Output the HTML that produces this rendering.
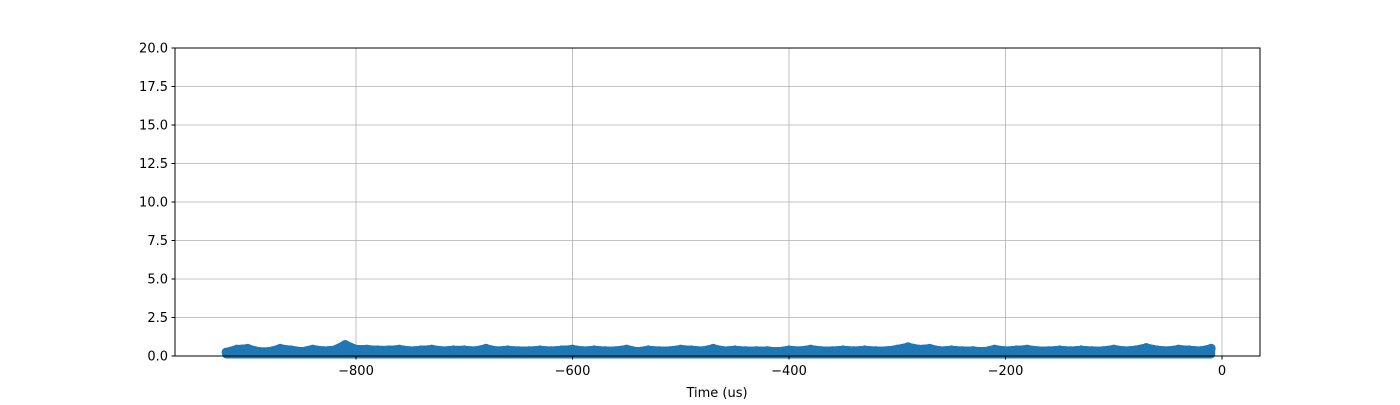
<!DOCTYPE html>
<html><head><meta charset="utf-8"><style>
body{margin:0;background:#fff;font-family:"Liberation Sans","DejaVu Sans",sans-serif}
svg text{font-family:"DejaVu Sans","Liberation Sans",sans-serif;font-size:13px;fill:#000}
</style></head><body>
<svg width="1400" height="400">
<g id="grid"></g>
<g id="series"></g>
<rect x="175" y="48" width="1085" height="308" fill="none" stroke="#000" stroke-width="1"/>
<g id="ticks"></g>
<text x="717" y="397" text-anchor="middle">Time (us)</text>
</svg>
<script>
const xTicks=[-800,-600,-400,-200,0];
const yTicks=[0,2.5,5,7.5,10,12.5,15,17.5,20];
const yTickLabels=["0.0","2.5","5.0","7.5","10.0","12.5","15.0","17.5","20.0"];
const times=[];for(let t=-920;t<=-10;t+=10)times.push(t);
const values=[0.25,0.45,0.5,0.3,0.3,0.5,0.4,0.3,0.45,0.35,0.4,0.75,0.45,0.45,0.4,0.4,0.45,0.35,0.4,0.45,0.35,0.4,0.4,0.35,0.5,0.35,0.4,0.35,0.35,0.4,0.35,0.4,0.45,0.35,0.4,0.35,0.35,0.45,0.3,0.4,0.35,0.35,0.45,0.4,0.35,0.5,0.35,0.4,0.35,0.35,0.35,0.3,0.4,0.35,0.45,0.35,0.35,0.4,0.35,0.4,0.35,0.35,0.45,0.6,0.45,0.5,0.35,0.4,0.35,0.35,0.3,0.45,0.35,0.4,0.45,0.35,0.35,0.4,0.35,0.4,0.35,0.35,0.45,0.35,0.4,0.55,0.4,0.35,0.45,0.4,0.35,0.5];
const X=v=>1222+(v)*216.5/200, Y=v=>356-v*308/20;
const NS="http://www.w3.org/2000/svg";
function mk(tag,at,p){const e=document.createElementNS(NS,tag);for(const k in at)e.setAttribute(k,at[k]);p.appendChild(e);return e;}
const grid=document.getElementById('grid'),ticks=document.getElementById('ticks'),ser=document.getElementById('series');
xTicks.forEach(v=>{const x=X(v);
 if(x>175&&x<1260){const g=mk('line',{x1:x,x2:x,y1:48,y2:356,stroke:'#b0b0b0','stroke-width':0.8},grid);
 
 }
 const t=mk('line',{x1:x,x2:x,y1:356,y2:359.5,stroke:'#000'},ticks);
 
 
 const l=mk('text',{x:x,y:375,'text-anchor':'middle'},ticks);l.textContent=(v<0?'\u2212'+(-v):v);
 
 });
yTicks.forEach((v,i)=>{const y=Y(v);
 if(i>0&&i<yTicks.length-1){const g=mk('line',{x1:175,x2:1260,y1:y,y2:y,stroke:'#b0b0b0','stroke-width':0.8},grid);
 
 }
 const t=mk('line',{x1:171.5,x2:175,y1:y,y2:y,stroke:'#000'},ticks);
 
 
 const l=mk('text',{x:168,y:y+4.5,'text-anchor':'end'},ticks);l.textContent=yTickLabels[i];
 
 });
const pts=times.map((t,i)=>X(t)+','+Y(values[i])).join(' ');
const area=mk('polygon',{points:X(times[0])+','+Y(0.1)+' '+pts+' '+X(times[times.length-1])+','+Y(0.1),fill:'#1f77b4',stroke:'#1f77b4','stroke-width':8,'stroke-linejoin':'round'},ser);


const pl=mk('polyline',{points:pts,fill:'none',stroke:'#1f77b4','stroke-width':8,'stroke-linejoin':'round'},ser);


times.forEach((t,i)=>{const c=mk('circle',{cx:X(t),cy:Y(values[i]),r:4.5,fill:'#1f77b4'},ser);
 
 });
</script>
</body></html>
